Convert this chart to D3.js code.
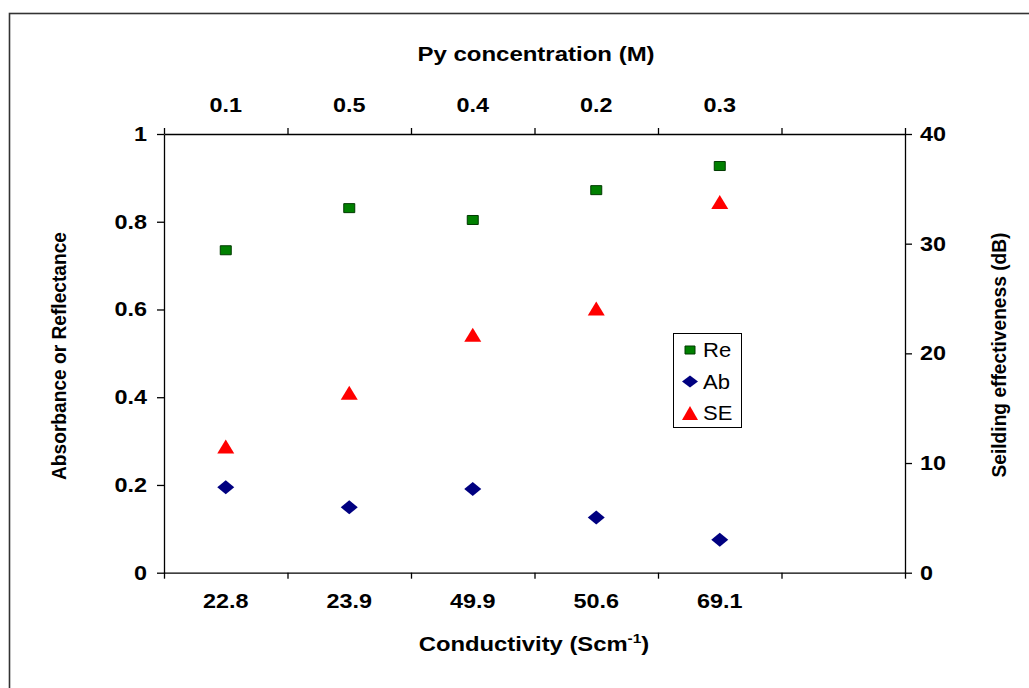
<!DOCTYPE html>
<html><head><meta charset="utf-8">
<script src="https://cdn.jsdelivr.net/npm/d3@7"></script>
<style>body{margin:0;background:#fff}svg{display:block}text{font-family:"Liberation Sans",Arial,sans-serif}</style>
</head><body><div id="chart"></div>
<script>
const conductivity = ["22.8","23.9","49.9","50.6","69.1",""];
const pyConc = ["0.1","0.5","0.4","0.2","0.3",""];
const reflectance = [0.735, 0.831, 0.804, 0.872, 0.927];
const absorbance = [0.195, 0.149, 0.191, 0.126, 0.075];
const shielding = [11.5, 16.4, 21.7, 24.1, 33.8];
const leftTicks = [0, 0.2, 0.4, 0.6, 0.8, 1];
const rightTicks = [0, 10, 20, 30, 40];

const W = 1029, H = 688, SX = 1.17;
const svg = d3.select("#chart").append("svg").attr("width", W).attr("height", H);
svg.append("rect").attr("x",9.5).attr("y",13.5).attr("width",1040).attr("height",700)
  .attr("fill","#fff").attr("stroke","#333").attr("stroke-width",1.6);

const L = 164, R = 905, T = 134, B = 572.7;
const x = d3.scaleBand().domain(d3.range(conductivity.length)).range([L,R]).padding(0);
const xb = d3.scaleLinear().domain([0, conductivity.length]).range([L,R]);
const yL = d3.scaleLinear().domain([0,1]).range([B,T]);
const yR = d3.scaleLinear().domain([0,40]).range([B,T]);

function label(g, px, py, txt, opts) {
  opts = opts || {};
  const gg = g.append("g").attr("transform", `translate(${px},${py}) scale(${opts.sx||SX},1)`);
  const t = gg.append("text").attr("text-anchor", opts.anchor||"middle")
    .attr("font-size", opts.size||20).attr("font-weight", opts.weight||"bold").attr("fill","#000").text(txt);
  return t;
}

const axStyle = g => { g.selectAll("path,line").attr("stroke","#000").attr("stroke-width",1.3); g.selectAll("text").remove(); };

svg.append("g").attr("transform",`translate(0,${B})`)
  .call(d3.axisBottom(xb).tickValues(d3.range(conductivity.length+1)).tickSize(6).tickSizeOuter(0).tickFormat("")).call(axStyle);
svg.append("g").attr("transform",`translate(0,${T})`)
  .call(d3.axisTop(xb).tickValues(d3.range(conductivity.length+1)).tickSize(6).tickSizeOuter(0).tickFormat("")).call(axStyle);
svg.append("g").attr("transform",`translate(${L},0)`)
  .call(d3.axisLeft(yL).tickValues(leftTicks).tickSize(7).tickSizeOuter(0).tickFormat("")).call(axStyle);
svg.append("g").attr("transform",`translate(${R},0)`)
  .call(d3.axisRight(yR).tickValues(rightTicks).tickSize(7).tickSizeOuter(0).tickFormat("")).call(axStyle);

const lab = svg.append("g");
conductivity.forEach((c,i) => { if (c) label(lab, x(i)+x.bandwidth()/2, 607.5, c); });
pyConc.forEach((c,i) => { if (c) label(lab, x(i)+x.bandwidth()/2, 111.5, c); });
leftTicks.forEach(v => label(lab, 147, yL(v)+7, v===0?"0":v===1?"1":v.toFixed(1), {anchor:"end"}));
rightTicks.forEach(v => label(lab, 920, yR(v)+7, String(v), {anchor:"start"}));

label(lab, 536, 61, "Py concentration (M)", {size:20, sx:1.2});
const ct = label(lab, 534, 651, "Conductivity (Scm", {size:20, sx:1.19});
ct.append("tspan").attr("font-size",13).attr("dy",-8).text("-1");
ct.append("tspan").attr("dy",8).text(")");

svg.append("g").attr("transform","translate(66,356) rotate(-90) scale(1,1.1)")
  .append("text").attr("text-anchor","middle").attr("font-size",18).attr("font-weight","bold")
  .attr("textLength",248).attr("lengthAdjust","spacingAndGlyphs").text("Absorbance or Reflectance");
svg.append("g").attr("transform","translate(1006,355) rotate(-90) scale(1,1.1)")
  .append("text").attr("text-anchor","middle").attr("font-size",18).attr("font-weight","bold")
  .attr("textLength",245).attr("lengthAdjust","spacingAndGlyphs").text("Seilding effectiveness (dB)");

const sq = (w,h) => `M${-w/2},${-h/2}h${w}v${h}h${-w}Z`;
const dia = (w,h) => `M0,${-h/2}L${w/2},0L0,${h/2}L${-w/2},0Z`;
const tri = (w,h) => `M0,${-h/2}L${w/2},${h/2}L${-w/2},${h/2}Z`;

const cx = i => x(i) + x.bandwidth()/2;
svg.append("g").selectAll("path").data(reflectance).join("path")
  .attr("transform",(d,i)=>`translate(${cx(i)},${yL(d)})`).attr("d",sq(11,9))
  .attr("fill","#008000").attr("stroke","#003a00").attr("stroke-width",1);
svg.append("g").selectAll("path").data(absorbance).join("path")
  .attr("transform",(d,i)=>`translate(${cx(i)},${yL(d)})`).attr("d",dia(17,14))
  .attr("fill","#000080");
svg.append("g").selectAll("path").data(shielding).join("path")
  .attr("transform",(d,i)=>`translate(${cx(i)},${yR(d)})`).attr("d",tri(17,14))
  .attr("fill","#ff0000");

const legendItems = [
  {name:"Re", shape:sq(10,8), fill:"#008000", stroke:"#003a00"},
  {name:"Ab", shape:dia(16,12), fill:"#000080", stroke:"none"},
  {name:"SE", shape:tri(16,14), fill:"#ff0000", stroke:"none"}
];
const lg = svg.append("g");
lg.append("rect").attr("x",673.5).attr("y",333.5).attr("width",68).attr("height",94)
  .attr("fill","#fff").attr("stroke","#000").attr("stroke-width",1);
legendItems.forEach((d,i) => {
  const yy = 350 + i*31.5;
  lg.append("path").attr("transform",`translate(690,${yy})`).attr("d",d.shape)
    .attr("fill",d.fill).attr("stroke",d.stroke);
  label(lg, 703, yy+7, d.name, {anchor:"start", weight:"normal", size:19.5, sx:1.13});
});
</script></body></html>
